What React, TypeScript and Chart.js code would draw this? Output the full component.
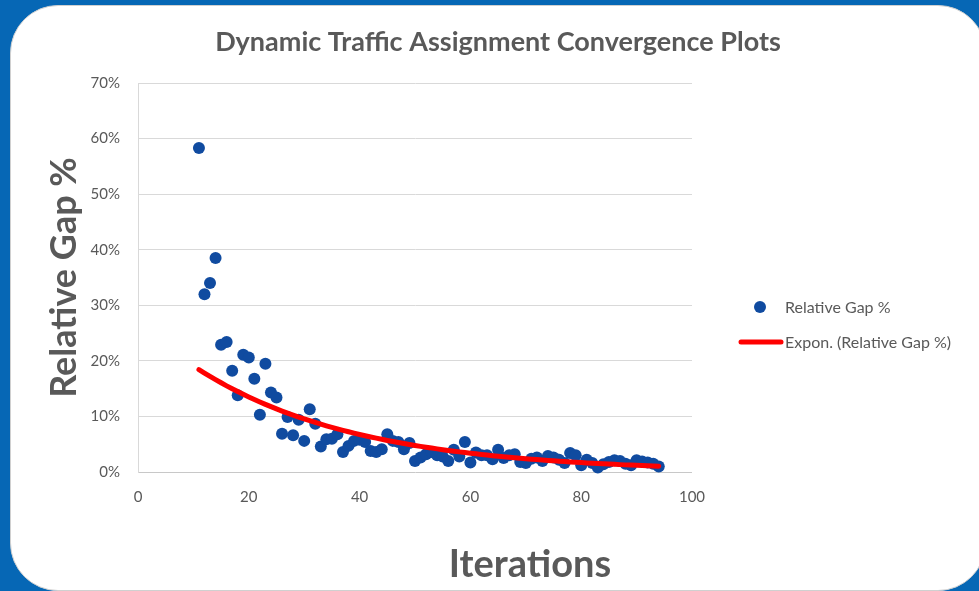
import React, { useEffect, useRef } from 'react';
import { Chart, registerables } from 'chart.js';

Chart.register(...registerables);

const TITLE = 'Dynamic Traffic Assignment Convergence Plots';
const X_TITLE = 'Iterations';
const Y_TITLE = 'Relative Gap %';
const SERIES_LABEL = 'Relative Gap %';
const TREND_LABEL = 'Expon. (Relative Gap %)';

const ITERATIONS = [
  11, 12, 13, 14, 15, 16, 17, 18, 19, 20, 21, 22, 23, 24, 25, 26, 27, 28, 29, 30,
  31, 32, 33, 34, 35, 36, 37, 38, 39, 40, 41, 42, 43, 44, 45, 46, 47, 48, 49, 50,
  51, 52, 53, 54, 55, 56, 57, 58, 59, 60, 61, 62, 63, 64, 65, 66, 67, 68, 69, 70,
  71, 72, 73, 74, 75, 76, 77, 78, 79, 80, 81, 82, 83, 84, 85, 86, 87, 88, 89, 90,
  91, 92, 93, 94,
];

// Relative gap in percent
const RELATIVE_GAP = [
  58.3, 32.0, 34.0, 38.5, 22.9, 23.4, 18.2, 13.8, 21.1, 20.6, 16.8, 10.3, 19.5, 14.3, 13.4, 6.9, 9.9, 6.6, 9.4, 5.6,
  11.3, 8.7, 4.6, 5.9, 6.0, 6.8, 3.6, 4.7, 5.6, 5.8, 5.4, 3.8, 3.6, 4.1, 6.8, 5.6, 5.4, 4.1, 5.2, 2.0,
  2.6, 3.2, 3.6, 3.0, 2.8, 2.0, 4.0, 2.8, 5.4, 1.7, 3.5, 3.0, 3.0, 2.3, 4.0, 2.5, 3.0, 3.2, 1.8, 1.6,
  2.4, 2.6, 2.0, 2.9, 2.6, 2.2, 1.6, 3.4, 3.0, 1.2, 2.2, 1.6, 0.8, 1.4, 1.8, 2.1, 2.0, 1.5, 1.2, 2.1,
  1.9, 1.7, 1.5, 1.0,
];

const X_MIN = 0;
const X_MAX = 100;
const X_STEP = 20;
const Y_MIN = 0;
const Y_MAX = 70;
const Y_STEP = 10;

const FONT = 'Lato, "Open Sans", sans-serif';
const TEXT_COLOR = '#595959';
const POINT_COLOR = '#104ba0';
const TREND_COLOR = '#ff0000';
const GRID_COLOR = '#d9d9d9';

// Exponential least-squares fit (as a spreadsheet "Expon." trendline does)
function expTrend(xs: number[], ys: number[]) {
  const n = xs.length;
  const ly = ys.map((v) => Math.log(v));
  const mx = xs.reduce((a, b) => a + b, 0) / n;
  const my = ly.reduce((a, b) => a + b, 0) / n;
  let sxy = 0;
  let sxx = 0;
  for (let i = 0; i < n; i++) {
    sxy += (xs[i] - mx) * (ly[i] - my);
    sxx += (xs[i] - mx) * (xs[i] - mx);
  }
  const m = sxy / sxx;
  const b = my - m * mx;
  return xs.map((x) => ({ x, y: Math.exp(b + m * x) }));
}

const overlayPlugin = {
  id: 'overlayText',
  afterDraw(chart: any) {
    const { ctx } = chart;
    const ds0 = chart.data.datasets[0];
    const ds1 = chart.data.datasets[1];
    ctx.save();
    ctx.fillStyle = TEXT_COLOR;
    ctx.textAlign = 'center';
    ctx.textBaseline = 'middle';
    ctx.font = `bold 27px ${FONT}`;
    ctx.fillText(TITLE, 498, 42);
    ctx.font = `bold 38px ${FONT}`;
    ctx.fillText(X_TITLE, 530, 565);

    // legend
    ctx.beginPath();
    ctx.arc(760, 307, 6, 0, Math.PI * 2);
    ctx.fillStyle = ds0.backgroundColor;
    ctx.fill();
    ctx.beginPath();
    ctx.strokeStyle = ds1.borderColor;
    ctx.lineWidth = 5;
    ctx.lineCap = 'round';
    ctx.moveTo(741, 342);
    ctx.lineTo(781, 342);
    ctx.stroke();
    ctx.fillStyle = TEXT_COLOR;
    ctx.textAlign = 'left';
    ctx.font = `16px ${FONT}`;
    ctx.fillText(ds0.label, 785, 308);
    ctx.fillText(ds1.label, 785, 343);
    ctx.restore();
  },
};

function ConvergenceChart() {
  const ref = useRef<HTMLCanvasElement | null>(null);
  useEffect(() => {
    if (!ref.current) return;
    const points = ITERATIONS.map((x, i) => ({ x, y: RELATIVE_GAP[i] }));
    const trend = expTrend(ITERATIONS, RELATIVE_GAP);
    const chart = new Chart(ref.current, {
      type: 'scatter',
      data: {
        datasets: [
          {
            label: SERIES_LABEL,
            data: points,
            backgroundColor: POINT_COLOR,
            borderColor: POINT_COLOR,
            pointRadius: 6,
            pointBorderWidth: 0,
            clip: false,
            order: 2,
          },
          {
            type: 'line',
            label: TREND_LABEL,
            data: trend,
            borderColor: TREND_COLOR,
            backgroundColor: TREND_COLOR,
            borderWidth: 5,
            pointRadius: 0,
            showLine: true,
            fill: false,
            tension: 0,
            borderCapStyle: 'round',
            clip: false,
            order: 1,
          },
        ],
      } as any,
      options: {
        animation: false,
        responsive: false,
        events: [],
        layout: { padding: { left: 0, right: 287, top: 83, bottom: 79 } },
        plugins: {
          legend: { display: false },
          title: { display: false },
          tooltip: { enabled: false },
        },
        scales: {
          x: {
            type: 'linear',
            min: X_MIN,
            max: X_MAX,
            grid: { display: false, drawTicks: false },
            border: { display: false },
            ticks: {
              stepSize: X_STEP,
              color: TEXT_COLOR,
              font: { family: FONT, size: 15 },
              padding: 16,
            },
            afterFit: (s: any) => {
              s.height = 40;
            },
          },
          y: {
            type: 'linear',
            min: Y_MIN,
            max: Y_MAX,
            grid: {
              drawTicks: false,
              color: (c: any) => (c.tick && c.tick.value === 0 ? '#c8c8c8' : GRID_COLOR),
            },
            border: { display: true, color: GRID_COLOR },
            ticks: {
              stepSize: Y_STEP,
              color: TEXT_COLOR,
              font: { family: FONT, size: 15 },
              padding: 18,
              callback: (v: any) => `${v}%`,
            },
            title: {
              display: true,
              text: Y_TITLE,
              color: TEXT_COLOR,
              font: { family: FONT, size: 36, weight: 'bold' },
              padding: { top: 43, bottom: 0 },
            },
            afterFit: (s: any) => {
              s.width = 138;
            },
          },
        },
      } as any,
      plugins: [overlayPlugin],
    });
    return () => chart.destroy();
  }, []);
  return (
    <canvas
      ref={ref}
      width={979}
      height={591}
      style={{ position: 'absolute', left: 0, top: 0, width: 979, height: 591 }}
    />
  );
}

export default function App() {
  return (
    <div
      style={{
        position: 'fixed',
        left: 0,
        top: 0,
        width: 979,
        height: 591,
        background: '#0667b5',
        overflow: 'hidden',
      }}
    >
      <div
        style={{
          position: 'absolute',
          left: 10,
          top: 5,
          width: 974,
          height: 584,
          background: '#ffffff',
          borderRadius: 48,
          border: '1px solid #d0d0d0',
        }}
      />
      <ConvergenceChart />
    </div>
  );
}
